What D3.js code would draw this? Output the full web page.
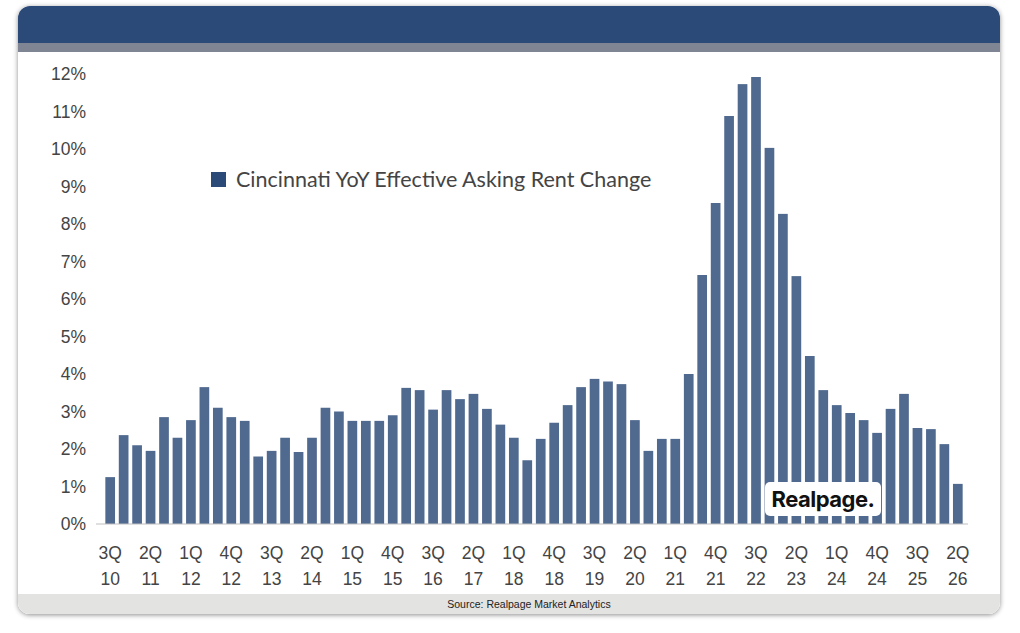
<!DOCTYPE html>
<html lang="en">
<head>
<meta charset="UTF-8">
<script src="https://d3js.org/d3.v7.min.js"></script>
<style>
  body { margin: 0; background: #fff; }
  svg text { font-family: "Liberation Sans", Arial, sans-serif; }
</style>
</head>
<body>
<svg id="chart" width="1020" height="633"></svg>
<script>
// YoY effective asking rent change, 3Q10 .. 2Q26
const quarters = [];
for (let y = 10; y <= 26; y++) for (let q = 1; q <= 4; q++) {
  if ((y === 10 && q < 3) || (y === 26 && q > 2)) continue;
  quarters.push(q + 'Q' + y);
}
const values = [1.25, 2.37, 2.1, 1.95, 2.85, 2.3, 2.77, 3.65, 3.1, 2.85, 2.75, 1.8,
  1.95, 2.3, 1.92, 2.3, 3.1, 3.0, 2.75, 2.75, 2.75, 2.9, 3.63, 3.57,
  3.05, 3.57, 3.33, 3.47, 3.07, 2.65, 2.3, 1.7, 2.27, 2.7, 3.17, 3.65,
  3.87, 3.8, 3.73, 2.77, 1.95, 2.27, 2.27, 4.0, 6.64, 8.56, 10.88, 11.73,
  11.92, 10.03, 8.27, 6.61, 4.48, 3.57, 3.17, 2.96, 2.77, 2.43, 3.07, 3.47,
  2.56, 2.53, 2.13, 1.07];
const yTicks = d3.range(0, 13);

const svg = d3.select('#chart');
const defs = svg.append('defs');
const f = defs.append('filter').attr('id', 'sh').attr('x', '-5%').attr('y', '-5%').attr('width', '110%').attr('height', '110%');
f.append('feDropShadow').attr('dx', 0).attr('dy', 1).attr('stdDeviation', 2.5).attr('flood-color', '#000').attr('flood-opacity', 0.45);
defs.append('clipPath').attr('id', 'card').append('rect')
  .attr('x', 18).attr('y', 6).attr('width', 982).attr('height', 608).attr('rx', 12);

svg.append('rect').attr('x', 18).attr('y', 6).attr('width', 982).attr('height', 608).attr('rx', 12)
  .attr('fill', '#fff').attr('filter', 'url(#sh)');
const card = svg.append('g').attr('clip-path', 'url(#card)');
card.append('rect').attr('x', 18).attr('y', 6).attr('width', 982).attr('height', 37).attr('fill', '#2c4a78');
card.append('rect').attr('x', 18).attr('y', 43).attr('width', 982).attr('height', 9).attr('fill', '#7f8592');
card.append('rect').attr('x', 18).attr('y', 594).attr('width', 982).attr('height', 20).attr('fill', '#e3e3e1');
svg.append('text').attr('x', 529).attr('y', 608).attr('text-anchor', 'middle')
  .attr('font-size', 10.5).attr('fill', '#222').text('Source: Realpage Market Analytics');

const x = d3.scaleBand().domain(quarters).range([104, 964]).paddingInner(0.28).paddingOuter(0.1);
const y = d3.scaleLinear().domain([0, 12]).range([524, 74]);

svg.append('g').selectAll('rect').data(values).join('rect')
  .attr('x', (d, i) => x(quarters[i])).attr('width', x.bandwidth())
  .attr('y', d => y(d)).attr('height', d => y(0) - y(d)).attr('fill', '#50698f');

svg.append('line').attr('x1', 96).attr('x2', 968).attr('y1', y(0)).attr('y2', y(0))
  .attr('stroke', '#bfbfbf');

const ya = svg.append('g').attr('transform', 'translate(86,0)')
  .call(d3.axisLeft(y).tickValues(yTicks).tickFormat(d => d + '%').tickSize(0).tickPadding(0));
ya.select('.domain').remove();
ya.selectAll('text').attr('font-size', 17.5).attr('fill', '#444').attr('font-family', '"Liberation Sans", Arial, sans-serif');

const xa = svg.append('g').attr('transform', `translate(0,${y(0)})`)
  .call(d3.axisBottom(x).tickValues(quarters.filter((d, i) => i % 3 === 0)).tickSize(0).tickFormat(''));
xa.select('.domain').remove();
xa.selectAll('.tick').each(function (d) {
  const t = d3.select(this).append('text').attr('fill', '#444').attr('font-size', 17.5)
    .attr('text-anchor', 'middle').attr('font-family', '"Liberation Sans", Arial, sans-serif');
  t.append('tspan').attr('x', 0).attr('y', 35).text(d.slice(0, 2));
  t.append('tspan').attr('x', 0).attr('y', 61).text(d.slice(2));
});

// legend
svg.append('rect').attr('x', 211).attr('y', 172).attr('width', 15).attr('height', 15).attr('fill', '#2c4a78');
svg.append('text').attr('x', 236).attr('y', 187).attr('font-size', 21.5).attr('fill', '#444')
  .style('font-family', 'Lato, sans-serif').text('Cincinnati YoY Effective Asking Rent Change');

// logo
svg.append('rect').attr('x', 765).attr('y', 482).attr('width', 116).attr('height', 34).attr('rx', 5).attr('fill', '#fff');
svg.append('text').attr('x', 823).attr('y', 507).attr('text-anchor', 'middle').attr('font-size', 22)
  .attr('font-weight', 'bold').attr('fill', '#111').style('font-family', 'Inter, sans-serif')
  .style('letter-spacing', '-0.5px').text('Realpage.');
</script>
</body>
</html>
